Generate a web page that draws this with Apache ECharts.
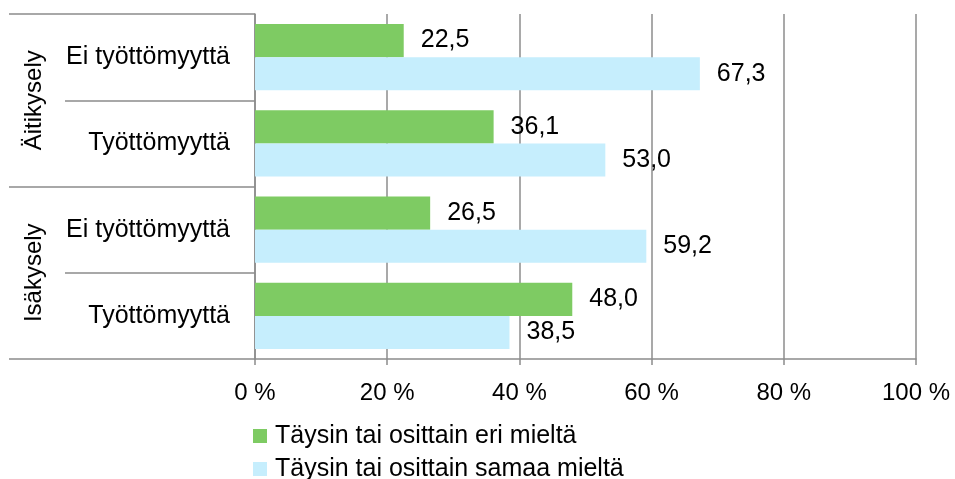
<!DOCTYPE html>
<html>
<head>
<meta charset="utf-8">
<script src="https://cdn.jsdelivr.net/npm/echarts@6/dist/echarts.min.js"></script>
<style>
  html, body { margin: 0; padding: 0; background: #fff; }
  #chart { width: 955px; height: 479px; }
</style>
</head>
<body>
<div id="chart"></div>
<script>
var groups = ['Äitikysely', 'Isäkysely'];
var categories = ['Ei työttömyyttä', 'Työttömyyttä', 'Ei työttömyyttä', 'Työttömyyttä'];
var seriesNames = ['Täysin tai osittain eri mieltä', 'Täysin tai osittain samaa mieltä'];
var eriMielta = [22.5, 36.1, 26.5, 48.0];
var samaaMielta = [67.3, 53.0, 59.2, 38.5];
var xTicks = [0, 20, 40, 60, 80, 100];

var chart = echarts.init(document.getElementById('chart'));

var font = 'Liberation Sans, Arial, sans-serif';
var gridColor = '#8c8c8c';

function label(p) {
    return p.value.toFixed(1).replace('.', ',');
}

var option = {
    animation: false,
    textStyle: { fontFamily: font },
    grid: { left: 255, right: 39, top: 14, bottom: 120 },
    legend: {
        orient: 'vertical',
        left: 253,
        top: 423,
        height: 80,
        padding: 0,
        itemWidth: 14,
        itemHeight: 14,
        itemGap: 7,
        icon: 'rect',
        textStyle: { fontSize: 25, lineHeight: 26, color: '#000', fontFamily: font, padding: [0, 0, 0, 3] },
        data: seriesNames
    },
    xAxis: {
        type: 'value',
        min: xTicks[0],
        max: xTicks[xTicks.length - 1],
        interval: 20,
        axisLine: { show: true, lineStyle: { color: gridColor, width: 1.5 } },
        axisTick: { show: true, length: 6, lineStyle: { color: gridColor, width: 1.5 } },
        splitLine: { show: true, lineStyle: { color: gridColor, width: 1.5 } },
        axisLabel: { formatter: '{value} %', fontSize: 24, color: '#000', margin: 22 }
    },
    yAxis: [{
        type: 'category',
        data: categories,
        inverse: true,
        axisLine: { show: true, lineStyle: { color: gridColor, width: 1.5 } },
        axisTick: { show: true, interval: 0, length: 190, lineStyle: { color: gridColor, width: 1.5 } },
        axisLabel: { fontSize: 25, color: '#000', margin: 25, interval: 0 }
    }, {
        type: 'category',
        data: groups,
        inverse: true,
        position: 'left',
        axisLine: { show: false },
        axisTick: { show: true, interval: 0, length: 246, lineStyle: { color: gridColor, width: 1.5 } },
        axisLabel: { fontSize: 24, color: '#000', rotate: 90, margin: 209, interval: 0 }
    }],
    series: [{
        name: seriesNames[0],
        type: 'bar',
        data: eriMielta,
        barGap: 0,
        barCategoryGap: '23%',
        itemStyle: { color: '#7ecb63' },
        label: { show: true, position: 'right', distance: 17, fontSize: 25, color: '#000', formatter: label }
    }, {
        name: seriesNames[1],
        type: 'bar',
        data: samaaMielta,
        barGap: 0,
        barCategoryGap: '23%',
        itemStyle: { color: '#c6eefd' },
        label: { show: true, position: 'right', distance: 17, fontSize: 25, color: '#000', formatter: label }
    }]
};

chart.setOption(option);
</script>
</body>
</html>
